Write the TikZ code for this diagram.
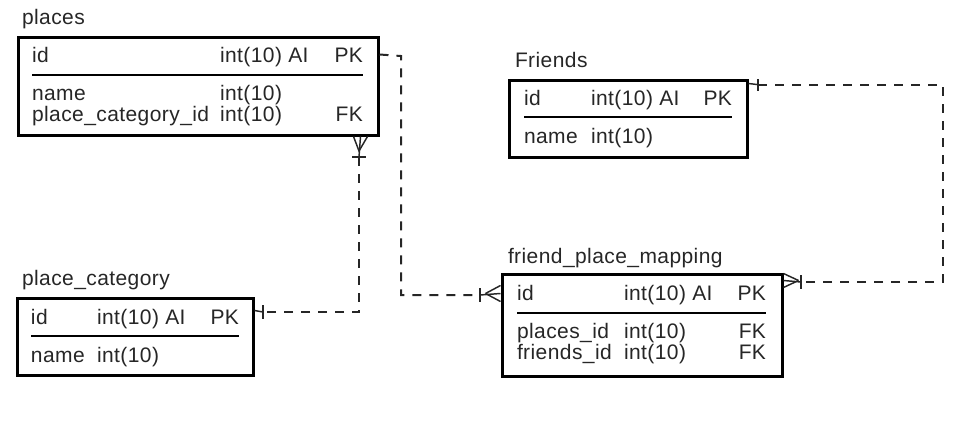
\documentclass[tikz,border=0pt]{standalone}
\usepackage{fontspec}
\setmainfont{Liberation Sans}[LetterSpace=2]
\begin{document}
\begin{tikzpicture}[x=0.75pt,y=-0.75pt,
  tbl/.style={draw=black, line width=2.25pt, inner sep=0pt, fill=white},
  txt/.style={inner sep=0pt, outer sep=0pt, font=\fontsize{15.75pt}{18pt}\selectfont, text=black!85},
  lt/.style={txt, anchor=base west},
  rt/.style={txt, anchor=base east},
  sep/.style={line width=0.9pt, black},
  dl/.style={line width=1.5pt, dash pattern=on 6.75pt off 6pt, black!85},
  mk/.style={line width=1.1pt, black!85}
]
\useasboundingbox (0,0) rectangle (968,446);

% ---------------- places
\node[tbl, minimum width=270pt, minimum height=73.5pt] (places) at (198,86) {};
\node[lt] (tPlaces) at (22,24) {places};
\node[lt] (pl1a) at (32,62) {id};
\node[lt] (pl1b) at (220,62) {int(10) AI};
\node[rt] (pl1c) at (363,62) {PK};
\draw[sep] (32,75) -- (363,75);
\node[lt] (pl2a) at (32,100) {name};
\node[lt] (pl2b) at (220,100) {int(10)};
\node[lt] (pl3a) at (32,121) {place\_category\_id};
\node[lt] (pl3b) at (220,121) {int(10)};
\node[rt] (pl3c) at (363,121) {FK};

% ---------------- place_category
\node[tbl, minimum width=177pt, minimum height=57.75pt] (pc) at (135,336.5) {};
\node[lt] (tPc) at (22,285) {place\_category};
\node[lt] (pc1a) at (31,324) {id};
\node[lt] (pc1b) at (97,324) {int(10) AI};
\node[rt] (pc1c) at (239,324) {PK};
\draw[sep] (31,336) -- (239,336);
\node[lt] (pc2a) at (31,362) {name};
\node[lt] (pc2b) at (97,362) {int(10)};

% ---------------- Friends
\node[tbl, minimum width=178.5pt, minimum height=57.75pt] (fr) at (628,118.5) {};
\node[lt] (tFr) at (515,67) {Friends};
\node[lt] (fr1a) at (524,105) {id};
\node[lt] (fr1b) at (591,105) {int(10) AI};
\node[rt] (fr1c) at (732,105) {PK};
\draw[sep] (524,117) -- (732,117);
\node[lt] (fr2a) at (524,143) {name};
\node[lt] (fr2b) at (591,143) {int(10)};

% ---------------- friend_place_mapping
\node[tbl, minimum width=210pt, minimum height=76.5pt] (fpm) at (642,325) {};
\node[lt] (tFpm) at (508,263) {friend\_place\_mapping};
\node[lt] (fp1a) at (517,300) {id};
\node[lt] (fp1b) at (624,300) {int(10) AI};
\node[rt] (fp1c) at (766,300) {PK};
\draw[sep] (517,313) -- (766,313);
\node[lt] (fp2a) at (517,338) {places\_id};
\node[lt] (fp2b) at (624,338) {int(10)};
\node[rt] (fp2c) at (766,338) {FK};
\node[lt] (fp3a) at (517,359) {friends\_id};
\node[lt] (fp3b) at (624,359) {int(10)};
\node[rt] (fp3c) at (766,359) {FK};

% ---------------- connector places -> friend_place_mapping
\coordinate (c1s) at ([yshift=-14.25pt]places.north east);
\coordinate (c1e) at ([yshift=-15.75pt]fpm.north west);
\draw[dl] (c1s) -- (401,56) -- (401,295) -- (480,295);
\draw[mk] (480,288) -- (480,302);
\draw[mk] (480,295) -- (c1e);
\draw[mk] ([xshift=-11.25pt]c1e) -- ([yshift=6pt]c1e);
\draw[mk] ([xshift=-11.25pt]c1e) -- ([yshift=-6pt]c1e);

% ---------------- connector places -> place_category
\coordinate (c2s) at ([xshift=-14.25pt]places.south east);
\coordinate (c2e) at ([yshift=-10.5pt]pc.north east);
\draw[mk] (c2s) -- (359,157);
\draw[mk] ([xshift=-5.25pt]c2s) -- (359,151) -- ([xshift=5.25pt]c2s);
\draw[mk] (352,157) -- (366,157);
\draw[dl] (359,157) -- (359,312) -- (263,312);
\draw[mk] (263,305) -- (263,319);
\draw[mk] (263,312) -- (c2e);

% ---------------- connector Friends -> friend_place_mapping
\coordinate (c3s) at ([yshift=-3.75pt]fr.north east);
\coordinate (c3e) at ([yshift=-6pt]fpm.north east);
\draw[mk] (c3s) -- (761,85);
\draw[mk] (758,79) -- (758,91);
\draw[dl] (758,85) -- (943,85) -- (943,282) -- (801,282);
\draw[mk] (801,275) -- (801,289);
\draw[mk] (801,282) -- (c3e);
\draw[mk] ([xshift=11.25pt]c3e) -- ([yshift=5.25pt]c3e);
\draw[mk] ([xshift=11.25pt]c3e) -- ([yshift=-5.25pt]c3e);
\end{tikzpicture}
\end{document}
